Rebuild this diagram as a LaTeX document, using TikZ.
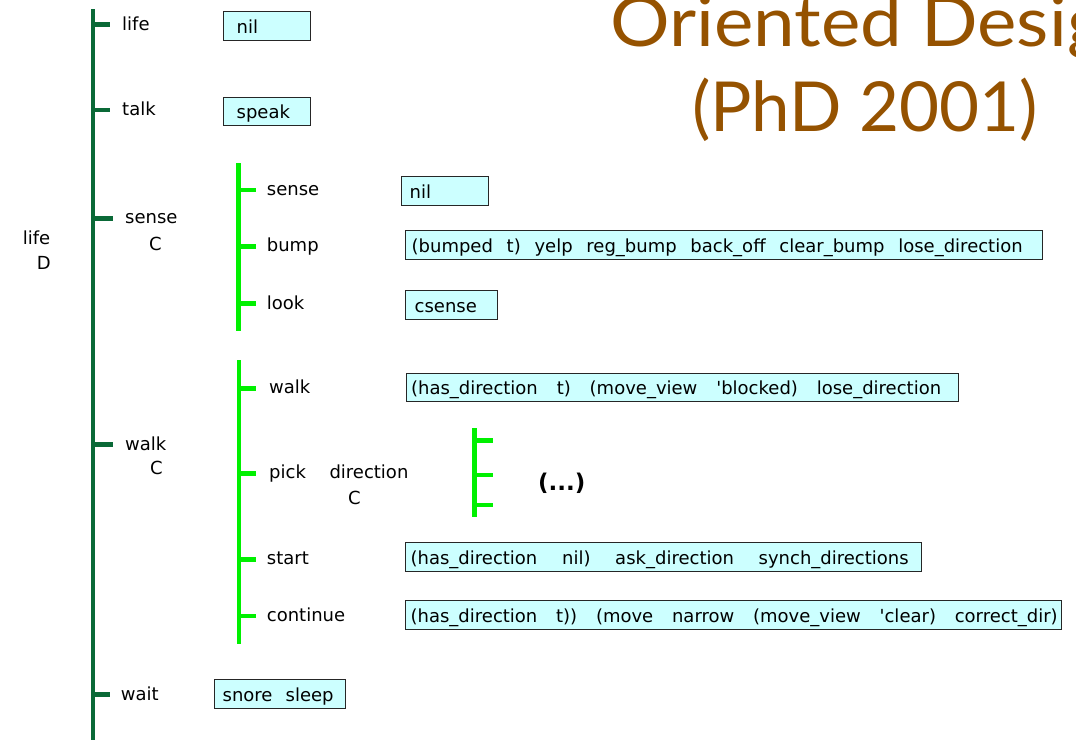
\documentclass[tikz,border=0pt]{standalone}
\usepackage{fontspec}
\setmainfont{DejaVu Sans}[Ligatures=TeXOff]
\newfontfamily\titlefont{Lato}
\newfontfamily\titlefontwide{Lato}[FakeStretch=1.08]
\definecolor{dkgreen}{RGB}{10,105,55}
\definecolor{brgreen}{RGB}{0,240,0}
\definecolor{actfill}{RGB}{204,255,255}
\definecolor{titlebrown}{RGB}{149,82,0}
\tikzset{
  trunk/.style={draw=dkgreen, line width=4.5pt},
  twig/.style={draw=brgreen, line width=4.5pt},
  tick/.style={shorten >=12pt},
  lbl/.style={anchor=base west, inner sep=0pt, font=\fontsize{18}{21}\selectfont},
  act/.style={draw=black!85, fill=actfill, line width=1.3pt, anchor=north west,
    inner sep=0pt, align=left, text height=18pt, text depth=3pt,
    font=\fontsize{18}{21}\selectfont},
  ttl/.style={anchor=base west, inner sep=0pt, text=titlebrown,
    font=\titlefont\fontsize{69}{80}\selectfont}
}
\newcommand{\fillto}[2]{\makebox[#1pt][s]{\spaceskip=0.32em plus 1fil\relax #2}}
\begin{document}
\begin{tikzpicture}[x=1pt,y=-1pt]
\useasboundingbox (0,0) rectangle (1076,739);

% title
\node[ttl, font=\titlefontwide\fontsize{69}{80}\selectfont] (title1) at (610,46.7) {Oriented Desig};
\node[ttl] (title2) at (692,131.7) {(PhD 2001)};

% root label
\node[lbl] (root) at (22.7,244) {life};
\node[lbl] (rootD) at (36.7,269) {D};

% trunk
\coordinate (trTop) at (93,9);
\coordinate (trBot) at (93,745);
\draw[trunk] (trTop) -- (trBot);
\coordinate (cLife) at (93,24.3);
\coordinate (cTalk) at (93,110);
\coordinate (cSense) at (93,218.3);
\coordinate (cWalk) at (93,444.3);
\coordinate (cWait) at (93,694.3);

\node[lbl] (lLife) at (122,30.5) {life};
\node[lbl] (lTalk) at (122,115.7) {talk};
\node[lbl] (lSense) at (125,223.5) {sense};
\node[lbl] (lSenseC) at (149,250) {C};
\node[lbl] (lWalk) at (125,450) {walk};
\node[lbl] (lWalkC) at (150,474.5) {C};
\node[lbl] (lWait) at (120.7,700) {wait};

\foreach \c/\l in {cLife/lLife,cTalk/lTalk,cSense/lSense,cWalk/lWalk}
  \draw[trunk,tick] (\c) -- (\c -| \l.west);
\draw[trunk,shorten >=10.7pt] (cWait) -- (cWait -| lWait.west);

% sense subtree
\coordinate (sTop) at (238.5,163.3);
\coordinate (sBot) at (238.5,330.7);
\draw[twig] (sTop) -- (sBot);
\coordinate (sSense) at (238.5,190);
\coordinate (sBump) at (238.5,246.7);
\coordinate (sLook) at (238.5,303.3);
\node[lbl] (lsSense) at (266.7,195.5) {sense};
\node[lbl] (lsBump) at (266.7,251.7) {bump};
\node[lbl] (lsLook) at (266.7,309) {look};
\foreach \c/\l in {sSense/lsSense,sBump/lsBump,sLook/lsLook}
  \draw[twig,shorten >=10.7pt] (\c) -- (\c -| \l.west);

% walk subtree
\coordinate (wTop) at (239,360);
\coordinate (wBot) at (239,644);
\draw[twig] (wTop) -- (wBot);
\coordinate (wWalk) at (239,388.3);
\coordinate (wPick) at (239,473.3);
\coordinate (wStart) at (239,559.3);
\coordinate (wCont) at (239,616);
\node[lbl] (lwWalk) at (269,393.5) {walk};
\node[lbl] (lwPick) at (269,478.5) {pick};
\node[lbl] (lwDir) at (329.3,478.5) {direction};
\node[lbl] (lwDirC) at (348,504) {C};
\node[lbl] (lwStart) at (266.7,564.5) {start};
\node[lbl] (lwCont) at (266.7,621) {continue};
\foreach \c/\l in {wWalk/lwWalk,wPick/lwPick}
  \draw[twig,shorten >=13pt] (\c) -- (\c -| \l.west);
\foreach \c/\l in {wStart/lwStart,wCont/lwCont}
  \draw[twig,shorten >=10.7pt] (\c) -- (\c -| \l.west);

% direction subtree
\coordinate (dTop) at (474.3,428.3);
\coordinate (dBot) at (474.3,516.7);
\draw[twig] (dTop) -- (dBot);
\coordinate (d1) at (474.3,440.7);
\coordinate (d2) at (474.3,475);
\coordinate (d3) at (474.3,505);
\coordinate (e1) at (493.3,440.7);
\coordinate (e2) at (493.3,475);
\coordinate (e3) at (493.3,505);
\draw[twig] (d1) -- (e1);
\draw[twig] (d2) -- (e2);
\draw[twig] (d3) -- (e3);
\node[lbl, font=\fontsize{23}{27}\selectfont\bfseries] (dots) at (538,490) {(...)};

% action boxes
\node[act, text width=87pt, minimum height=29pt] (bNil1) at (223,11)
  {\hspace*{13pt}nil};
\node[act, text width=87pt, minimum height=28.5pt] (bSpeak) at (223,96.5)
  {\hspace*{13pt}speak};
\node[act, text width=87pt, minimum height=28.5pt] (bNil2) at (401,176)
  {\hspace*{8pt}nil};
\node[act, text width=637pt, minimum height=28.5pt] (bBump) at (405,230)
  {\hspace*{6pt}\fillto{611}{(bumped t) yelp reg\_bump back\_off clear\_bump lose\_direction}};
\node[act, text width=92pt, minimum height=28.5pt] (bCsense) at (405,290)
  {\hspace*{9pt}csense};
\node[act, text width=552pt, minimum height=28.5pt] (bWalk) at (406,372.5)
  {\hspace*{4.5pt}\fillto{530}{(has\_direction t) (move\_view 'blocked) lose\_direction}};
\node[act, text width=516pt, minimum height=28.5pt] (bStart) at (405,542)
  {\hspace*{5pt}\fillto{498}{(has\_direction nil) ask\_direction synch\_directions}};
\node[act, text width=656pt, minimum height=29pt] (bCont) at (405,600)
  {\hspace*{5pt}\fillto{647}{(has\_direction t)) (move narrow (move\_view 'clear) correct\_dir)}};
\node[act, text width=131pt, minimum height=29pt] (bWait) at (214,678.5)
  {\hspace*{8pt}\fillto{111}{snore sleep}};
\end{tikzpicture}
\end{document}
